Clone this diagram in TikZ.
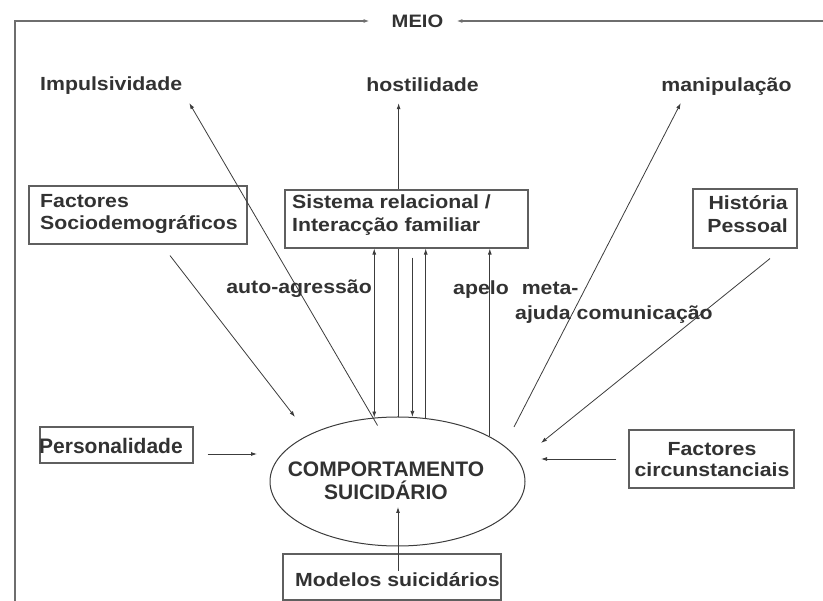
\documentclass[tikz,border=0pt]{standalone}
\usepackage{fontspec}
\setmainfont{Liberation Sans}[FakeStretch=1.12]
\newfontfamily\plainfont{Liberation Sans}
\usetikzlibrary{arrows.meta, shapes.geometric, backgrounds}
\definecolor{inkcolor}{RGB}{50,50,50}
\definecolor{linecolor}{RGB}{60,60,60}
\definecolor{boxcolor}{RGB}{95,95,95}
\definecolor{framecolor}{RGB}{110,110,110}

\begin{document}
\begin{tikzpicture}[
    x=1pt, y=-1pt,
    >={Latex[length=6pt,width=4pt]},
    box/.style={draw=boxcolor, line width=1.1pt, fill=white, inner sep=0pt},
    lbl/.style={text=inkcolor, font=\fontsize{19}{22.5}\selectfont\bfseries, inner sep=2pt},
    biglbl/.style={lbl, font=\plainfont\fontsize{21}{23}\selectfont\bfseries},
    arr/.style={draw=linecolor, line width=0.8pt, ->},
    arrboth/.style={draw=linecolor, line width=0.8pt, <->},
    frame/.style={draw=framecolor, line width=1.4pt, ->},
]
    \useasboundingbox (0,0) rectangle (823,601);

    % Environment loop
    \node[lbl, font=\fontsize{18}{20}\selectfont\bfseries] (meio) at (417.5,21) {MEIO};
    \coordinate (frameBL) at (15,601);
    \coordinate (frameTL) at (15,21);
    \coordinate (frameTR) at (823,21);
    \draw[frame, shorten >=20pt] (frameBL) -- (frameTL) -- (meio.west);
    \draw[frame, shorten >=11pt] (frameTR) -- (meio.east);

    % Outcomes
    \node[lbl, anchor=west] (impuls) at (38,86) {Impulsividade};
    \node[lbl] (hostil) at (422.5,85) {hostilidade};
    \node[lbl] (manip) at (726.5,87) {manipulação};

    % Central behaviour
    \node[ellipse, draw=linecolor, line width=1pt, minimum width=255pt, minimum height=129pt, inner sep=0pt] (ell) at (397.5,481.5) {};
    \node[biglbl, align=center] (comp) at (386,480.5) {COMPORTAMENTO\\SUICIDÁRIO};

    % hostilidade runs behind the family box
    \begin{scope}[on background layer]
        \draw[arr, shorten >=9pt] (ell.89) -- (ell.89 |- hostil.south);
    \end{scope}

    % Factor boxes
    \node[box, minimum width=218pt, minimum height=58pt] (socio) at (138,215) {};
    \node[lbl, anchor=west, align=left] (socioT) at (38,214) {Factores\\Sociodemográficos};

    \node[box, minimum width=243pt, minimum height=58pt] (sistema) at (406.5,219) {};
    \node[lbl, anchor=west, align=left] (sistemaT) at (290,215) {Sistema relacional /\\Interacção familiar};

    \node[box, minimum width=104pt, minimum height=59pt] (hist) at (745,218.5) {};
    \node[lbl, anchor=east, align=right] (histT) at (790,214) {História\\Pessoal};

    \node[box, minimum width=153pt, minimum height=36pt] (perso) at (116.5,445) {};
    \node[biglbl, anchor=west] (persoT) at (37,446) {Personalidade};

    \node[box, minimum width=165pt, minimum height=58pt] (circ) at (711.5,459) {};
    \node[lbl, font=\fontsize{19}{21}\selectfont\bfseries, align=center] (circT) at (712,460) {Factores\\circunstanciais};

    \node[box, minimum width=218pt, minimum height=46pt] (modelos) at (392,577) {};
    \node[lbl, anchor=west] (modelosT) at (293,580) {Modelos suicidários};

    % Family system links
    \draw[arrboth] (ell.110 |- sistema.south) -- (ell.110);
    \draw[arr, shorten <=9pt] (ell.77 |- sistema.south) -- (ell.77);
    \draw[arr] (ell.66) -- (ell.66 |- sistema.south);
    \draw[arr] (ell.26) -- (ell.26 |- sistema.south);

    % Outward links
    \coordinate (manipFrom) at (514,427);
    \draw[arr, shorten <=-9pt] (ell.111) -- ([shift={(5pt,-6pt)}]impuls.south east);
    \draw[arr] (manipFrom) -- ([shift={(21.5pt,-5pt)}]manip.south west);

    % Inward links
    \coordinate (socioTip) at (295,417);
    \coordinate (histTip) at (541,443);
    \coordinate (persoTip) at (257,454);
    \coordinate (circTip) at (541,459);
    \coordinate (modTip) at (398,507);
    \draw[arr] ([shift={(32pt,-11pt)}]socio.south) -- (socioTip);
    \draw[arr] ([shift={(25pt,-10pt)}]hist.south) -- (histTip);
    \draw[arr] ([shift={(14pt,-9pt)}]perso.east) -- (persoTip);
    \draw[arr] ([xshift=-12pt]circ.west) -- (circTip);
    \draw[arr] (modTip |- modelosT.north) -- (modTip);

    % Link labels
    \node[lbl, anchor=east] (auto) at (374,289) {auto-agressão};
    \node[lbl, anchor=west] (apelo) at (451,290) {apelo\hspace{13pt}meta-};
    \node[lbl, anchor=west] (ajuda) at (513,315) {ajuda comunicação};
\end{tikzpicture}
\end{document}
